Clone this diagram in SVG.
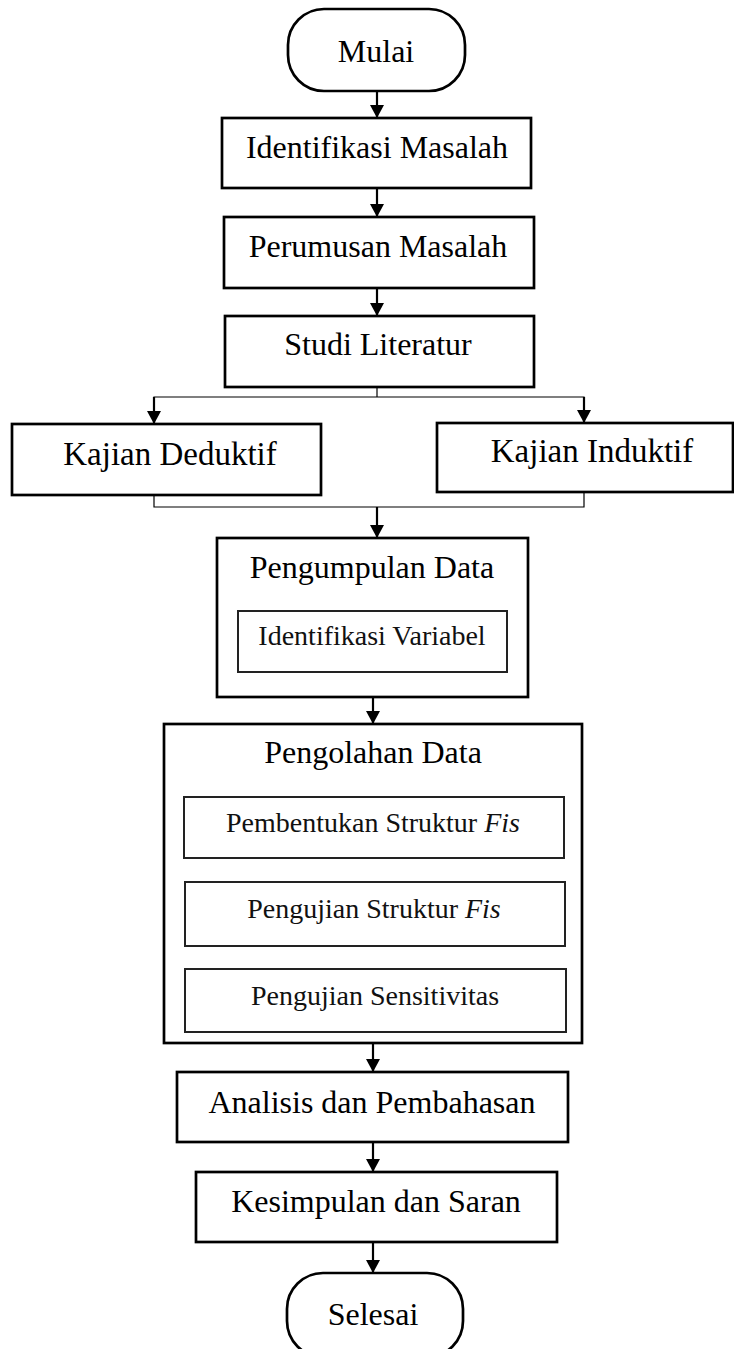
<svg xmlns="http://www.w3.org/2000/svg" width="734" height="1349" viewBox="0 0 734 1349">
<defs>
<style>
.box{fill:#fff;stroke:#000;stroke-width:2.7}
.inner{fill:#fff;stroke:#222;stroke-width:2}
.t{font-family:"Liberation Serif","Times New Roman",serif;font-size:32px;fill:#000;text-anchor:middle}
.k{font-size:33px}
.s{font-family:"Liberation Serif","Times New Roman",serif;font-size:28px;fill:#111;text-anchor:middle}
.arr{stroke:#000;stroke-width:2.2;fill:none;marker-end:url(#ah)}
.thin{stroke:#000;stroke-width:1.2;fill:none}
</style>
<marker id="ah" markerUnits="userSpaceOnUse" markerWidth="15" markerHeight="14" viewBox="0 0 14 15" refX="14" refY="7.5" orient="auto">
<path d="M0,0 L14,7.5 L0,15 z" fill="#000"/>
</marker>
</defs>
<rect width="734" height="1349" fill="#fff"/>
<g id="connectors">
<line class="arr" x1="377" y1="91" x2="377" y2="118"/>
<line class="arr" x1="377" y1="188" x2="377" y2="217"/>
<line class="arr" x1="377" y1="288" x2="377" y2="316"/>
<polyline class="thin" points="377,387 377,397"/>
<polyline class="thin" points="154,410 154,397 584,397 584,410"/>
<line class="arr" x1="154" y1="397" x2="154" y2="424"/>
<line class="arr" x1="584" y1="397" x2="584" y2="423"/>
<polyline class="thin" points="154,495 154,507 584,507 584,492"/>
<line class="arr" x1="377" y1="507" x2="377" y2="538"/>
<line class="arr" x1="373" y1="697" x2="373" y2="724"/>
<line class="arr" x1="374" y1="858" x2="374" y2="882"/>
<line class="arr" x1="376" y1="946" x2="376" y2="969"/>
<line class="arr" x1="373" y1="1043" x2="373" y2="1072"/>
<line class="arr" x1="373" y1="1142" x2="373" y2="1172"/>
<line class="arr" x1="373" y1="1242" x2="373" y2="1273"/>
</g>
<g id="mulai">
<rect class="box" x="288" y="9" width="177" height="82" rx="36" ry="36"/>
<text class="t" x="376" y="62">Mulai</text>
</g>
<g id="identifikasi-masalah">
<rect class="box" x="222" y="118" width="309" height="70"/>
<text class="t" x="377" y="158">Identifikasi Masalah</text>
</g>
<g id="perumusan-masalah">
<rect class="box" x="224" y="217" width="310" height="71"/>
<text class="t" x="378" y="257">Perumusan Masalah</text>
</g>
<g id="studi-literatur">
<rect class="box" x="225" y="316" width="309" height="71"/>
<text class="t" x="378" y="355">Studi Literatur</text>
</g>
<g id="kajian-deduktif">
<rect class="box" x="12" y="424" width="309" height="71"/>
<text class="t k" x="170" y="465">Kajian Deduktif</text>
</g>
<g id="kajian-induktif">
<rect class="box" x="437" y="423" width="296" height="69"/>
<text class="t k" x="592" y="462">Kajian Induktif</text>
</g>
<g id="pengumpulan-data">
<rect class="box" x="217" y="538" width="311" height="159"/>
<text class="t" x="372" y="578">Pengumpulan Data</text>
<g id="identifikasi-variabel">
<rect class="inner" x="238" y="611" width="269" height="61"/>
<text class="s" x="372" y="645">Identifikasi Variabel</text>
</g>
</g>
<g id="pengolahan-data">
<rect class="box" x="164" y="724" width="418" height="319"/>
<text class="t" x="373" y="763">Pengolahan Data</text>
<g id="pembentukan-struktur">
<rect class="inner" x="184" y="797" width="380" height="61"/>
<text class="s" x="373" y="832">Pembentukan Struktur <tspan font-style="italic">Fis</tspan></text>
</g>
<g id="pengujian-struktur">
<rect class="inner" x="185" y="882" width="380" height="64"/>
<text class="s" x="374" y="918">Pengujian Struktur <tspan font-style="italic">Fis</tspan></text>
</g>
<g id="pengujian-sensitivitas">
<rect class="inner" x="185" y="969" width="381" height="63"/>
<text class="s" x="375" y="1005">Pengujian Sensitivitas</text>
</g>
</g>
<g id="analisis">
<rect class="box" x="177" y="1072" width="391" height="70"/>
<text class="t" x="372" y="1113">Analisis dan Pembahasan</text>
</g>
<g id="kesimpulan">
<rect class="box" x="196" y="1172" width="361" height="70"/>
<text class="t" x="376" y="1212">Kesimpulan dan Saran</text>
</g>
<g id="selesai">
<rect class="box" x="287" y="1273" width="176" height="84" rx="36" ry="36"/>
<text class="t" x="373" y="1325">Selesai</text>
</g>
</svg>
